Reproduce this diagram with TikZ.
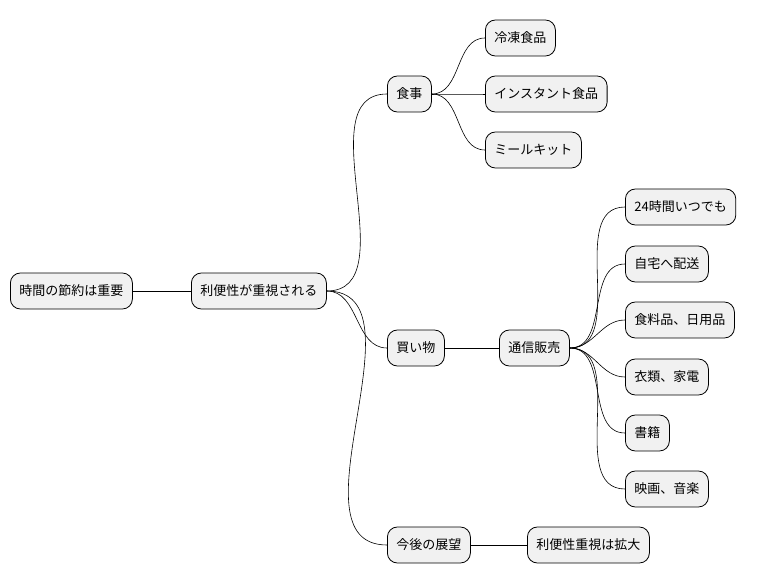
\documentclass[tikz,border=0pt]{standalone}
\usepackage{fontspec}
\setmainfont{Noto Sans CJK JP}
\begin{document}
\begin{tikzpicture}[x=1pt,y=-1pt,
  mm/.style={draw=black,fill={rgb,255:red,241;green,241;blue,241},rounded corners=10pt,minimum height=36pt,inner xsep=9pt,anchor=west,font=\fontsize{13pt}{15pt}\selectfont,line width=0.8pt},
  cn/.style={draw=black,line width=0.6pt}]
\useasboundingbox (0,0) rectangle (758,583);
\node[mm] (a) at (10,291) {時間の節約は重要};
\node[mm] (b) at (191,291) {利便性が重視される};
\node[mm] (c1) at (387,94) {食事};
\node[mm] (c2) at (387,348) {買い物};
\node[mm] (c3) at (387,545) {今後の展望};
\node[mm] (d1) at (485,38) {冷凍食品};
\node[mm] (d2) at (485,94) {インスタント食品};
\node[mm] (d3) at (485,150) {ミールキット};
\node[mm] (e) at (499,348) {通信販売};
\node[mm] (g) at (527,545) {利便性重視は拡大};
\node[mm] (f1) at (625,207) {24時間いつでも};
\node[mm] (f2) at (625,264) {自宅へ配送};
\node[mm] (f3) at (625,320) {食料品、日用品};
\node[mm] (f4) at (625,377) {衣類、家電};
\node[mm] (f5) at (625,433) {書籍};
\node[mm] (f6) at (625,489) {映画、音楽};
\draw[cn] (a.east) -- (b.west);
\foreach \t in {c1,c2,c3} \draw[cn] (b.east) to[out=0,in=180] (\t.west);
\foreach \t in {d1,d2,d3} \draw[cn] (c1.east) to[out=0,in=180] (\t.west);
\draw[cn] (c2.east) -- (e.west);
\draw[cn] (c3.east) -- (g.west);
\foreach \t in {f1,f2,f3,f4,f5,f6} \draw[cn] (e.east) to[out=0,in=180] (\t.west);
\end{tikzpicture}
\end{document}
